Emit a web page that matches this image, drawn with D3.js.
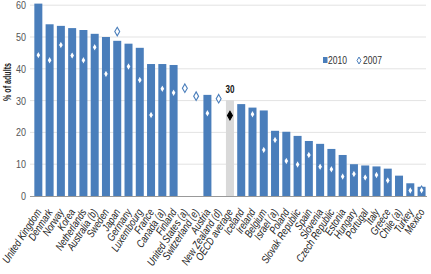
<!DOCTYPE html>
<html><head><meta charset="utf-8">
<script src="https://cdn.jsdelivr.net/npm/d3@7"></script>
<style>
body{margin:0;background:#fff;}
svg{display:block;font-family:"Liberation Sans Narrow","Arial Narrow","Liberation Sans",sans-serif;}
</style></head>
<body>
<svg id="c" width="431" height="274"></svg>
<script>
const countries = ["United Kingdom","Denmark","Norway","Korea","Netherlands","Australia (b)","Sweden","Japan","Germany","Luxembourg","France","Canada (a)","Finland","United States (a)","Switzerland (e)","Austria","New Zealand (d)","OECD average","Iceland","Ireland","Belgium","Israel (a)","Poland","Slovak Republic","Spain","Slovenia","Czech Republic","Estonia","Hungary","Portugal","Italy","Greece","Chile (a)","Turkey","Mexico"];
const values2010 = [60.5,54,53.5,52.8,52.2,51,50,48.8,47.9,46.6,41.5,41.5,41.2,null,null,31.8,null,30.1,28.9,27.8,26.9,20.5,20.2,18.9,17.3,16.4,14.8,12.9,10,9.6,9.3,8.6,6.4,4,2.9];
const values2007 = [44.3,42.7,47.5,44.2,42.7,46.8,38.4,51.7,40.7,36.5,25.5,33.7,32.5,33.9,31.4,26,30.6,25.3,null,25.7,14.5,17.6,11,9.9,12.9,9.2,8.4,6.1,6.9,5.8,6.6,4.9,null,1.7,1.8];
const yTicks = [0,10,20,30,40,50,60];
const seriesLabels = ["2010","2007"];
const highlight = "OECD average";
const highlightLabel = "30";

const blue = "#4a7ebb", grey = "#d9d9d9";
const svg = d3.select("#c");
const x = d3.scaleBand().domain(countries).range([32.7, 427.2]).paddingInner(0.29).paddingOuter(0.145);
const y = d3.scaleLinear().domain([0,60]).range([196, 5.2]);

// horizontal squeeze factor so that a text node spans a target width
function squeeze(node, target){ const l = node.getComputedTextLength(); return l>0 ? target/l : 1; }

// gridlines
svg.append("g").selectAll("line").data(yTicks.filter(d=>d>0)).join("line")
  .attr("x1",30).attr("x2",426).attr("y1",d=>y(d)).attr("y2",d=>y(d))
  .attr("stroke","#e3e3e3").attr("stroke-width",1);

// y axis
const ya = svg.append("g").attr("transform","translate(26,0)")
  .call(d3.axisLeft(y).tickValues(yTicks).tickSize(0).tickPadding(0));
ya.select(".domain").remove();
ya.selectAll("text").attr("font-size",11).attr("fill","#555").attr("font-family",null);
const ky = squeeze(ya.selectAll("text").filter(d=>d===60).node(), 10);
ya.selectAll("text").attr("transform",`scale(${ky},1)`);

const yl = svg.append("text").attr("text-anchor","middle").attr("font-size",11).attr("font-weight","bold").attr("fill","#222")
  .text("% of adults");
yl.attr("transform",`translate(11,82) rotate(-90) scale(${squeeze(yl.node(),38)},1)`);

// bars
const data = countries.map((c,i)=>({c, v10:values2010[i], v07:values2007[i]}));
svg.append("g").selectAll("rect").data(data.filter(d=>d.v10!=null)).join("rect")
  .attr("x",d=>x(d.c)).attr("width",x.bandwidth())
  .attr("y",d=>y(d.v10)).attr("height",d=>y(0)-y(d.v10))
  .attr("fill",d=>d.c===highlight?grey:blue);

// x axis line
svg.append("line").attr("x1",30).attr("x2",427).attr("y1",y(0)+0.5).attr("y2",y(0)+0.5)
  .attr("stroke","#999").attr("stroke-width",1);

// diamonds
const sym = d3.symbol().type(d3.symbolDiamond).size(21);
svg.append("g").selectAll("path").data(data.filter(d=>d.v07!=null)).join("path")
  .attr("d",sym)
  .attr("transform",d=>`translate(${x(d.c)+x.bandwidth()/2},${y(d.v07)})`)
  .attr("fill",d=>d.c===highlight?"#000":"#fff")
  .attr("stroke",d=>d.c===highlight?"#000":blue).attr("stroke-width",1.1);

// highlight label
const hl = svg.append("text").attr("text-anchor","middle").attr("font-size",11.5).attr("font-weight","bold").attr("fill","#111")
  .text(highlightLabel);
hl.attr("transform",`translate(${x(highlight)+x.bandwidth()/2},${y(30.1)-7}) scale(${squeeze(hl.node(),9)},1)`);

// x labels
const xa = svg.append("g").attr("transform",`translate(0,${y(0)})`)
  .call(d3.axisBottom(x).tickSize(0).tickPadding(0));
xa.select(".domain").remove();
xa.selectAll("text").attr("font-family",null).attr("font-size",11).attr("font-style","italic").attr("fill","#222")
  .attr("text-anchor","end").attr("dy",null).attr("y",0);
const kx = squeeze(xa.selectAll("text").filter(d=>d===countries[0]).node(), 62);
xa.selectAll("text").attr("transform",`translate(3.5,16) rotate(-57) scale(${kx},1)`);

// legend
const lg = svg.append("g").attr("transform","translate(323,60)");
lg.append("rect").attr("x",0).attr("y",-3).attr("width",4.5).attr("height",6).attr("fill",blue);
const t1 = lg.append("text").attr("font-size",11).attr("fill","#333").text(seriesLabels[0]);
const kl = squeeze(t1.node(),19);
t1.attr("transform",`translate(5,4) scale(${kl},1)`);
lg.append("path").attr("d",d3.symbol().type(d3.symbolDiamond).size(14)).attr("transform","translate(36,0.5)")
  .attr("fill","#fff").attr("stroke",blue).attr("stroke-width",1);
lg.append("text").attr("font-size",11).attr("fill","#333").text(seriesLabels[1])
  .attr("transform",`translate(40,4) scale(${kl},1)`);
</script>
</body></html>
